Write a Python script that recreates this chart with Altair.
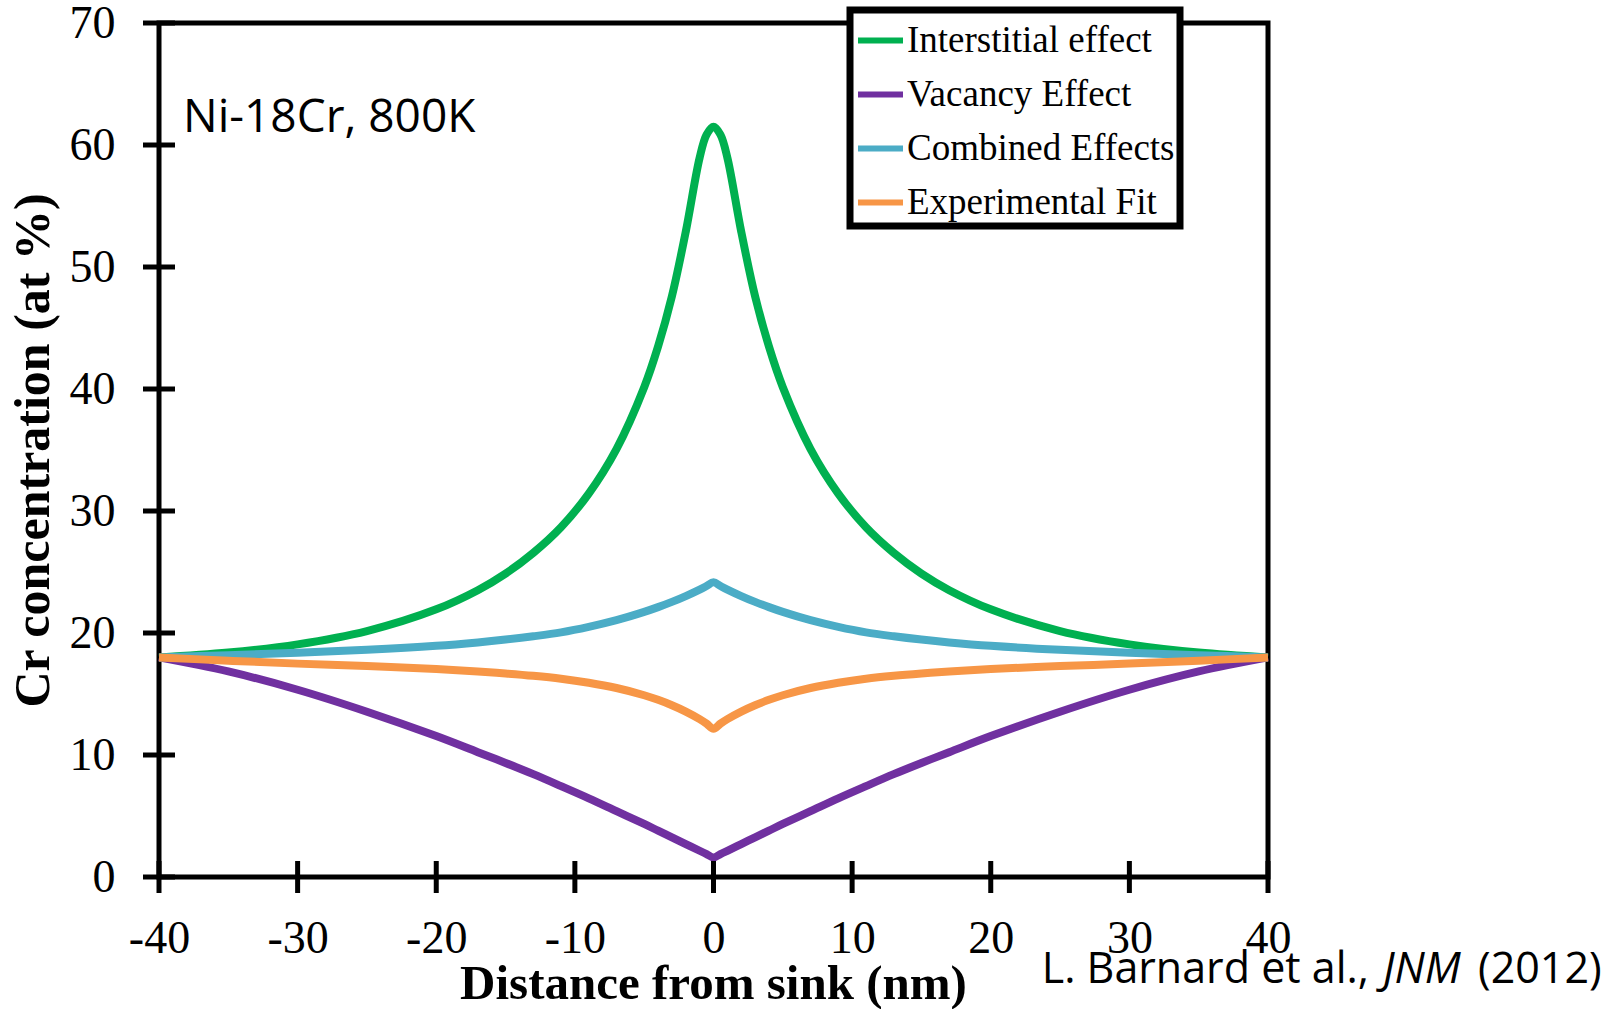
import altair as alt
import pandas as pd

# ---------------- data ----------------
x_nm = [-40, -35, -30, -25, -20, -17, -15, -13, -11, -9, -7, -5, -4, -3, -2, -1, -0.5, 0,
        0.5, 1, 2, 3, 4, 5, 7, 9, 11, 13, 15, 17, 20, 25, 30, 35, 40]

interstitial = [18.0, 18.4, 19.07, 20.16, 21.94, 23.51, 24.87, 26.57, 28.67, 31.43, 35.08, 40.15, 43.48, 47.6, 52.9, 58.96, 60.85, 61.5,
                60.85, 58.96, 52.9, 47.6, 43.48, 40.15, 35.08, 31.43, 28.67, 26.57, 24.87, 23.51, 21.94, 20.16, 19.07, 18.4, 18.0]

vacancy = [18.0, 16.85, 15.35, 13.55, 11.55, 10.23, 9.35, 8.43, 7.45, 6.45, 5.4, 4.35, 3.8, 3.25, 2.7, 2.15, 1.88, 1.6,
           1.88, 2.15, 2.7, 3.25, 3.8, 4.35, 5.4, 6.45, 7.45, 8.43, 9.35, 10.23, 11.55, 13.55, 15.35, 16.85, 18.0]

combined = [18.0, 18.18, 18.38, 18.62, 18.95, 19.23, 19.46, 19.73, 20.05, 20.5, 21.05, 21.73, 22.12, 22.55, 23.03, 23.56, 23.85, 24.15,
            23.85, 23.56, 23.03, 22.55, 22.12, 21.73, 21.05, 20.5, 20.05, 19.73, 19.46, 19.23, 18.95, 18.62, 18.38, 18.18, 18.0]

experimental = [18.0, 17.73, 17.49, 17.29, 17.04, 16.84, 16.68, 16.49, 16.25, 15.92, 15.49, 14.9, 14.52, 14.08, 13.56, 12.94, 12.57, 12.15,
                12.57, 12.94, 13.56, 14.08, 14.52, 14.9, 15.49, 15.92, 16.25, 16.49, 16.68, 16.84, 17.04, 17.29, 17.49, 17.73, 18.0]

series_names = ["Interstitial effect", "Vacancy Effect", "Combined Effects", "Experimental Fit"]
series_colors = ["#00B050", "#7030A0", "#4BACC6", "#F79646"]

x_ticks = [-40, -30, -20, -10, 0, 10, 20, 30, 40]
y_ticks = [0, 10, 20, 30, 40, 50, 60, 70]

x_title = "Distance from sink (nm)"
y_title = "Cr concentration (at %)"
annotation = ["Ni-18Cr, 800K"]
citation_a = ["L. Barnard et al.,"]
citation_b = ["JNM"]
citation_c = ["(2012)"]

# ---------------- tables ----------------
rows = []
for name, vals in zip(series_names, [interstitial, vacancy, combined, experimental]):
    for i, (xv, yv) in enumerate(zip(x_nm, vals)):
        rows.append({"x": xv, "y": yv, "series": name, "order": i})
df = pd.DataFrame(rows)

xtick_df = pd.DataFrame({"x": x_ticks, "y": [0] * len(x_ticks)})
ytick_df = pd.DataFrame({"x": [-40] * len(y_ticks), "y": y_ticks})

xs = alt.Scale(domain=[-40, 40], nice=False, zero=False)
ys = alt.Scale(domain=[0, 70], nice=False, zero=False)

SERIF = "Liberation Serif"
SANS = "Open Sans"

lines = alt.Chart(df).mark_line(strokeWidth=8, interpolate="catmull-rom").encode(
    x=alt.X("x:Q", scale=xs,
            axis=alt.Axis(values=x_ticks, title=x_title, labelPadding=75,
                          labelExpr="'' + datum.value", labelFlush=False,
                          labelBaseline="alphabetic", titleX=554, titleY=121,
                          titleBaseline="alphabetic", titleAlign="center")),
    y=alt.Y("y:Q", scale=ys,
            axis=alt.Axis(values=y_ticks, title=y_title, labelPadding=44,
                          labelExpr="'' + datum.value", labelFlush=False,
                          titleX=-126, titleY=427, titleAngle=-90, titleFontSize=50,
                          titleAlign="center", titleBaseline="middle")),
    color=alt.Color("series:N",
                    scale=alt.Scale(domain=series_names, range=series_colors),
                    legend=alt.Legend(title=None, orient="none", legendX=691, legendY=-13,
                                      symbolType="stroke", symbolSize=2025,
                                      symbolStrokeWidth=6, labelFont=SERIF,
                                      labelFontSize=37, labelColor="black",
                                      labelOffset=1, rowPadding=10, padding=5,
                                      fillColor="white", strokeColor="black",
                                      labelLimit=500)),
    order="order:Q",
)

yticks = alt.Chart(ytick_df).mark_tick(orient="horizontal", size=32, thickness=5,
                                        color="black", opacity=1).encode(
    x=alt.X("x:Q", scale=xs), y=alt.Y("y:Q", scale=ys))
xticks = alt.Chart(xtick_df).mark_tick(orient="vertical", size=32, thickness=5,
                                        color="black", opacity=1).encode(
    x=alt.X("x:Q", scale=xs), y=alt.Y("y:Q", scale=ys))

ann = alt.Chart(pd.DataFrame({"t": annotation})).mark_text(
    font=SANS, fontSize=46, align="left", baseline="alphabetic", color="black").encode(
    text="t:N", x=alt.value(24), y=alt.value(109))

cit_a = alt.Chart(pd.DataFrame({"t": citation_a})).mark_text(
    font=SANS, fontSize=43, align="right", baseline="alphabetic", color="black").encode(
    text="t:N", x=alt.value(1210), y=alt.value(960))
cit_b = alt.Chart(pd.DataFrame({"t": citation_b})).mark_text(
    font=SANS, fontSize=43, fontStyle="italic", align="left", baseline="alphabetic",
    color="black").encode(text="t:N", x=alt.value(1224), y=alt.value(960))
cit_c = alt.Chart(pd.DataFrame({"t": citation_c})).mark_text(
    font=SANS, fontSize=43, align="left", baseline="alphabetic", color="black").encode(
    text="t:N", x=alt.value(1319), y=alt.value(960))

chart = alt.layer(lines, yticks, xticks, ann, cit_a, cit_b, cit_c).properties(
    width=1109, height=854,
    padding={"left": 159, "top": 23, "right": 346, "bottom": 132},
    autosize=alt.AutoSizeParams(type="none"),
    background="white",
).configure_view(
    stroke="black", strokeWidth=5
).configure_axis(
    domain=False, ticks=False, grid=False,
    labelFont=SERIF, labelFontSize=46, labelColor="black",
    titleFont=SERIF, titleFontSize=49, titleFontWeight="bold", titleColor="black",
).configure_legend(
    strokeColor="black", strokeWidth=7
)

chart.save("out.html", embed_options={"renderer": "svg", "actions": False})
